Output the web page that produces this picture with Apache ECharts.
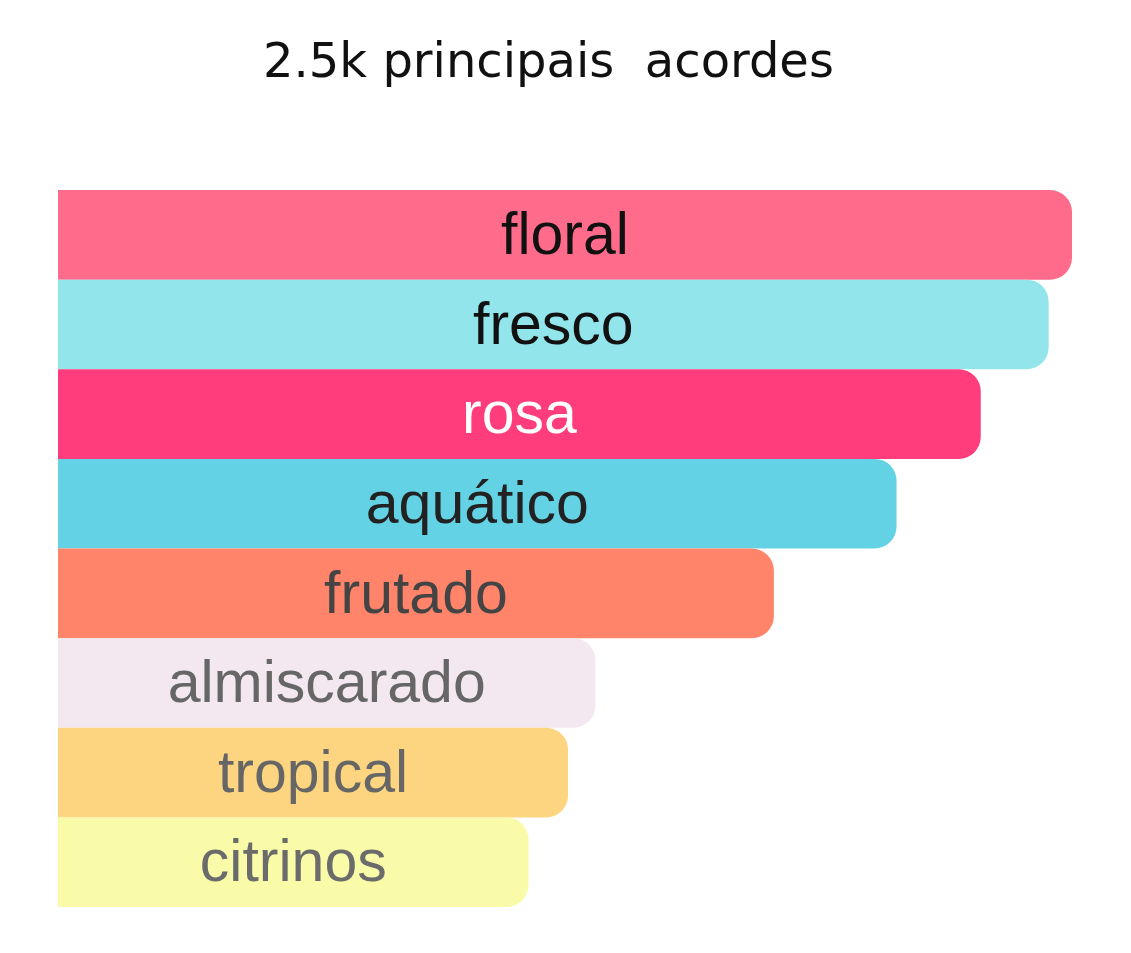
<!DOCTYPE html>
<html>
<head>
<meta charset="utf-8">
<script src="https://cdn.jsdelivr.net/npm/echarts@6/dist/echarts.min.js"></script>
<style>
html,body{margin:0;padding:0;background:#ffffff;}
#chart{width:1131px;height:953px;}
</style>
</head>
<body>
<div id="chart"></div>
<script>
const categories = ['floral', 'fresco', 'rosa', 'aquático', 'frutado', 'almiscarado', 'tropical', 'citrinos'];
const values = [100, 97.7, 91.0, 82.7, 70.6, 53.0, 50.3, 46.4];
const titleText = '2.5k principais  acordes';

const barColors = ['#FF6B8B', '#92E5EA', '#FF3D7C', '#64D2E5', '#FF8469', '#F3E8F0', '#FDD47F', '#FAFBA8'];
const labelColors = ['#111111', '#111111', '#ffffff', '#222222', '#444444', '#666666', '#666666', '#6b6b6b'];

const chart = echarts.init(document.getElementById('chart'), null, {renderer: 'canvas'});
chart.setOption({
  backgroundColor: '#ffffff',
  animation: false,
  title: {
    text: titleText,
    left: 258,
    top: 36,
    textStyle: {
      fontFamily: '"DejaVu Sans", "Noto Sans", sans-serif',
      fontWeight: 'normal',
      fontSize: 48,
      color: '#111111'
    }
  },
  grid: {left: 58, right: 59, top: 190, bottom: 46, containLabel: false},
  xAxis: {
    type: 'value', min: 0, max: 100,
    show: false
  },
  yAxis: {
    type: 'category', data: categories, inverse: true,
    show: false
  },
  series: [{
    type: 'bar',
    barCategoryGap: 0,
    barWidth: '100%',
    data: values.map((v, i) => ({
      value: v,
      itemStyle: {color: barColors[i], borderRadius: [0, 22, 22, 0]},
      label: {color: labelColors[i]}
    })),
    label: {
      show: true,
      position: 'inside',
      offset: [0, 3],
      formatter: p => p.name,
      fontFamily: '"Liberation Sans", Arial, sans-serif',
      fontSize: 59
    }
  }]
});
</script>
</body>
</html>
